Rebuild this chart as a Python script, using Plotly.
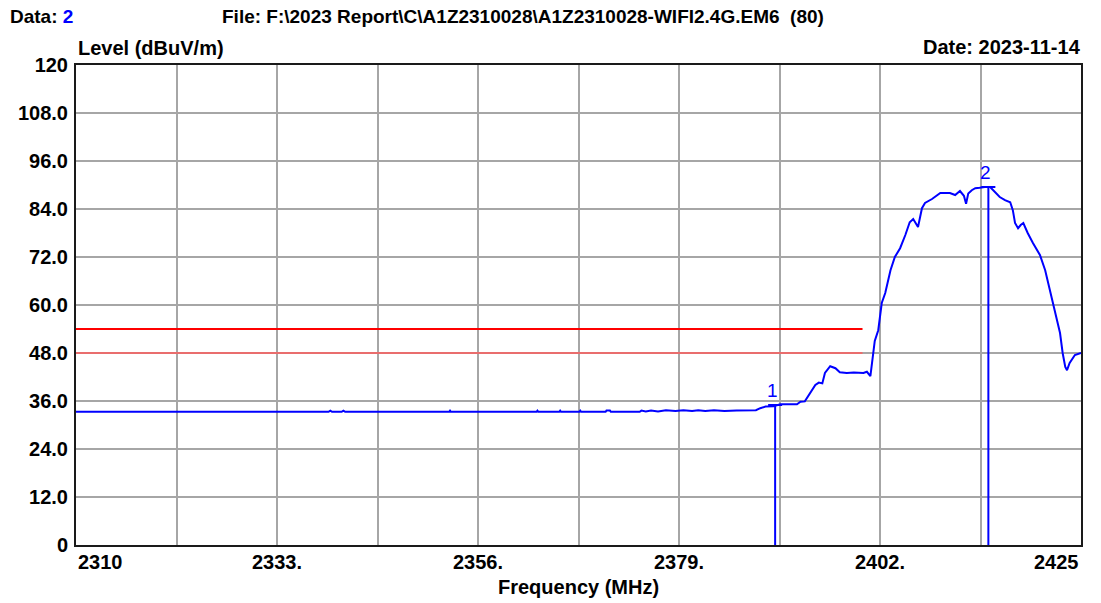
import plotly.graph_objects as go

# ---- data ----
freq_mhz = [2310, 2338.9, 2339.1, 2339.3, 2340.4, 2340.6, 2340.8, 2352.7, 2352.8, 2352.9,
            2362.7, 2362.8, 2362.9, 2365.3, 2365.4, 2365.5, 2367.6, 2367.7, 2367.8, 2370.6,
            2370.7, 2371.1, 2371.2, 2374.5, 2374.7, 2375.2, 2375.8, 2376.6, 2377.5, 2378.6,
            2379.5, 2380.5, 2381.2, 2382.0, 2383.0, 2384.2, 2385.6, 2386.5, 2387.8, 2388.3,
            2388.9, 2389.8, 2390.6, 2392.5, 2392.9, 2393.4, 2394.0, 2394.6, 2395.0, 2395.4,
            2395.7, 2396.3, 2396.9, 2397.4, 2398.2, 2399.0, 2400.1, 2400.5, 2400.9, 2401.2,
            2401.4, 2401.8, 2402.2, 2402.6, 2403.2, 2403.7, 2404.3, 2404.9, 2405.4, 2405.8,
            2406.35, 2406.8, 2407.15, 2407.95, 2408.9, 2410.0, 2410.6, 2411.15, 2411.6, 2411.85,
            2412.1, 2412.5, 2412.9, 2413.4, 2414.0, 2414.6, 2415.2, 2415.7, 2416.3, 2416.9,
            2417.2, 2417.45, 2417.8, 2418.1, 2418.4, 2418.9, 2419.5, 2420.3, 2420.9, 2421.45,
            2422.0, 2422.6, 2422.9, 2423.2, 2423.4, 2423.7, 2424.3, 2424.9, 2425]
level_dbuv = [33.3, 33.3, 33.6, 33.3, 33.3, 33.6, 33.3, 33.3, 33.6, 33.3,
              33.3, 33.6, 33.3, 33.3, 33.6, 33.3, 33.3, 33.6, 33.3, 33.3,
              33.6, 33.6, 33.3, 33.3, 33.6, 33.4, 33.6, 33.4, 33.7, 33.5,
              33.7, 33.5, 33.7, 33.5, 33.7, 33.5, 33.6, 33.6, 33.7, 34.2,
              34.6, 34.7, 35.2, 35.2, 35.8, 35.9, 38.0, 40.0, 40.6, 40.4,
              43.0, 44.7, 44.2, 43.2, 43.0, 43.1, 43.0, 43.3, 42.2, 47.0,
              51.0, 53.7, 60.5, 63.0, 68.7, 72.0, 74.2, 77.5, 80.7, 81.5,
              79.5, 84.2, 85.5, 86.5, 88.0, 88.0, 87.5, 88.5, 87.3, 85.3,
              87.9, 88.7, 89.2, 89.3, 89.5, 89.5, 88.2, 87.0, 86.2, 85.7,
              83.7, 80.5, 79.2, 80.0, 80.5, 78.0, 75.5, 72.5, 68.7, 63.7,
              58.7, 53.0, 48.0, 44.5, 43.7, 45.5, 47.5, 48.0, 48.0]

limit_freq = [2310, 2400]
limit_peak = [54, 54]
limit_avg = [48, 48]

marker_labels = ["1", "2"]
marker_freq = [2390.0, 2414.4]
marker_level = [35.0, 89.5]

x_grid = [2310, 2321.5, 2333, 2344.5, 2356, 2367.5, 2379, 2390.5, 2402, 2413.5, 2425]
x_tick_vals = [2310, 2333, 2356, 2379, 2402, 2425]
x_tick_text = ["2310", "2333.", "2356.", "2379.", "2402.", "2425"]
y_tick_vals = [0, 12, 24, 36, 48, 60, 72, 84, 96, 108, 120]
y_tick_text = ["0", "12.0", "24.0", "36.0", "48.0", "60.0", "72.0", "84.0", "96.0", "108.0", "120"]

FONT = "Liberation Sans"
BLUE = "#0000ff"
TXT = 20

fig = go.Figure()

fig.add_trace(go.Scatter(x=limit_freq, y=limit_peak, mode="lines",
                         line=dict(color="#ff0000", width=2), hoverinfo="skip"))
fig.add_trace(go.Scatter(x=limit_freq, y=limit_avg, mode="lines",
                         line=dict(color="#ff5a5a", width=1.5), hoverinfo="skip"))
fig.add_trace(go.Scatter(x=freq_mhz, y=level_dbuv, mode="lines",
                         line=dict(color=BLUE, width=2)))

for lab, f, lv in zip(marker_labels, marker_freq, marker_level):
    fig.add_trace(go.Scatter(x=[f, f], y=[lv, 0], mode="lines",
                             line=dict(color=BLUE, width=2)))
    fig.add_trace(go.Scatter(x=[f], y=[lv], mode="markers",
                             marker=dict(symbol="line-ew-open", size=10, color=BLUE,
                                         line=dict(color=BLUE, width=2))))
    fig.add_annotation(x=f, y=lv, text=lab, showarrow=False, xanchor="center",
                       yanchor="bottom", xshift=-3, yshift=2,
                       font=dict(family=FONT, size=19, color=BLUE))

# x tick labels (first left aligned, last right aligned)
for i, (v, t) in enumerate(zip(x_tick_vals, x_tick_text)):
    anchor = "left" if i == 0 else ("right" if i == len(x_tick_vals) - 1 else "center")
    fig.add_annotation(x=v, y=0, xref="x", yref="paper", text=t, showarrow=False,
                       xanchor=anchor, yanchor="top", yshift=-4,
                       font=dict(family=FONT, size=TXT, color="#000000", weight="bold"))

# header texts
HEAD_Y = 1.102
fig.add_annotation(x=-0.0677, y=HEAD_Y, xref="paper", yref="paper", showarrow=False,
                   xanchor="left", yanchor="middle",
                   text="Data: <span style='color:#0000ff'>2</span>",
                   font=dict(family=FONT, size=19, color="#000000", weight="bold"))
fig.add_annotation(x=0.1433, y=HEAD_Y, xref="paper", yref="paper", showarrow=False,
                   xanchor="left", yanchor="middle",
                   text="File: F:\\2023 Report\\C\\A1Z2310028\\A1Z2310028-WIFI2.4G.EM6&nbsp;&nbsp;(80)",
                   font=dict(family=FONT, size=19, color="#000000", weight="bold"))
fig.add_annotation(x=0.0, y=1.035, xref="paper", yref="paper", showarrow=False,
                   xanchor="left", yanchor="middle", text="Level (dBuV/m)",
                   font=dict(family=FONT, size=TXT, color="#000000", weight="bold"))
fig.add_annotation(x=1.002, y=1.037, xref="paper", yref="paper", showarrow=False,
                   xanchor="right", yanchor="middle", text="Date: 2023-11-14",
                   font=dict(family=FONT, size=TXT, color="#000000", weight="bold"))
fig.add_annotation(x=0.5, y=-0.0875, xref="paper", yref="paper", showarrow=False,
                   xanchor="center", yanchor="middle", text="Frequency (MHz)",
                   font=dict(family=FONT, size=TXT, color="#000000", weight="bold"))

# page has an 8px body margin, so the figure is sized to fit inside the window
fig.update_layout(
    width=1093, height=595,
    margin=dict(l=68, r=20, t=57, b=58, autoexpand=False),
    paper_bgcolor="white", plot_bgcolor="white",
    showlegend=False,
    xaxis=dict(range=[2310, 2425], tickmode="array", tickvals=x_grid,
               showticklabels=False, ticks="", showgrid=True, gridcolor="#a6a6a6",
               gridwidth=2, zeroline=False, showline=True, linecolor="#1a1a1a",
               linewidth=2, mirror=True, automargin=False),
    yaxis=dict(range=[0, 120], tickmode="array", tickvals=y_tick_vals,
               ticktext=y_tick_text, ticks="", showgrid=True, gridcolor="#a6a6a6",
               gridwidth=2, zeroline=False, showline=True, linecolor="#1a1a1a",
               linewidth=2, mirror=True, ticklabelstandoff=2, automargin=False,
               tickfont=dict(family=FONT, size=TXT, color="#000000", weight="bold")),
)

fig.write_html("out.html")
